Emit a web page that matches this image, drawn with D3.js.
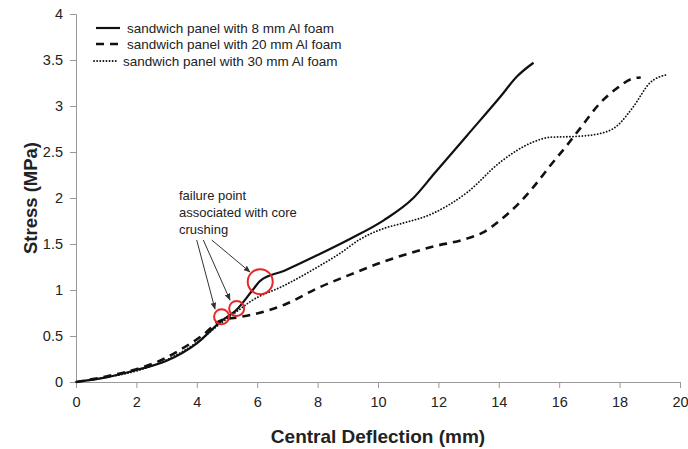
<!DOCTYPE html>
<html><head><meta charset="utf-8">
<script src="https://cdn.jsdelivr.net/npm/d3@7"></script>
<style>body{margin:0;background:#fff}svg{display:block}text{font-family:"Liberation Sans",Arial,sans-serif}</style>
</head><body><svg id="c" width="688" height="449"></svg>
<script>
const xTicks = [0,2,4,6,8,10,12,14,16,18,20];
const yTicks = [0,0.5,1,1.5,2,2.5,3,3.5,4];
const yTickLabels = ["0","0.5","1","1.5","2","2.5","3","3.5","4"];

const seriesNames = ["sandwich panel with 8 mm Al foam","sandwich panel with 20 mm Al foam","sandwich panel with 30 mm Al foam"];

const defl8 = [0,1,2,3,4,4.8,5.3,5.85,6.1,6.9,8.0,9.1,10.2,11.17,11.85,12.95,14.05,14.6,15.15];
const stress8 = [0,0.05,0.13,0.23,0.42,0.66,0.78,1.0,1.1,1.21,1.38,1.56,1.76,2.0,2.26,2.68,3.1,3.32,3.47];

const defl20 = [0,1,2,2.9,3.45,4.2,4.8,5.3,5.8,6.9,8.0,9.1,10.2,10.75,11.8,12.95,13.5,14.05,14.6,15.15,15.7,16.25,16.7,17.35,17.9,18.45,18.7];
const stress20 = [0,0.06,0.14,0.25,0.35,0.51,0.67,0.70,0.73,0.84,1.02,1.17,1.31,1.37,1.47,1.56,1.63,1.76,1.92,2.12,2.35,2.57,2.76,3.03,3.19,3.30,3.31];

const defl30 = [0,1,2,3,4,4.8,5.3,5.8,6.9,8.0,8.75,9.4,10.2,10.75,11.8,12.95,14.05,15.15,15.7,16.6,17.35,17.9,18.45,19.0,19.56];
const stress30 = [0,0.05,0.12,0.24,0.43,0.64,0.76,0.88,1.05,1.25,1.40,1.55,1.67,1.72,1.83,2.06,2.39,2.61,2.66,2.67,2.70,2.78,2.99,3.25,3.34];

const failX = [4.82,5.32,6.1];
const failY = [0.71,0.80,1.09];
const failR = [7.5,7.5,12.5];

const annotationLines = ["failure point","associated with core","crushing"];

const svg = d3.select("#c");
const x = d3.scaleLinear().domain([0,20]).range([76,680]);
const y = d3.scaleLinear().domain([0,4]).range([382,14]);

const axisColor = "#999";
const xa = svg.append("g").attr("transform","translate(0,382)")
  .call(d3.axisBottom(x).tickValues(xTicks).tickSize(6).tickPadding(9).tickFormat(d3.format("d")));
const ya = svg.append("g").attr("transform","translate(76,0)")
  .call(d3.axisLeft(y).tickValues(yTicks).tickSize(6).tickPadding(7).tickFormat((d,i)=>yTickLabels[i]));
[xa,ya].forEach(g=>{
  g.selectAll("path,line").attr("stroke",axisColor);
  g.selectAll("text").attr("font-size",14.5).attr("fill","#222");
});

svg.append("text").attr("x",378).attr("y",443).attr("text-anchor","middle")
  .attr("font-size",19).attr("font-weight","bold").attr("fill","#222").text("Central Deflection (mm)");
svg.append("text").attr("transform","translate(37,198) rotate(-90)").attr("text-anchor","middle")
  .attr("font-size",18.5).attr("font-weight","bold").attr("fill","#222").text("Stress (MPa)");

const line = d3.line().curve(d3.curveMonotoneX);
const styles = [
  {w:2.2, dash:null, cap:"butt"},
  {w:2.6, dash:"8,6", cap:"butt"},
  {w:1.8, dash:"0.1,3", cap:"round"}
];
const data = [[defl8,stress8],[defl20,stress20],[defl30,stress30]];
data.forEach(([xs,ys],i)=>{
  svg.append("path")
    .attr("d", line(xs.map((v,j)=>[x(v),y(ys[j])])))
    .attr("fill","none").attr("stroke","#111")
    .attr("stroke-width",styles[i].w)
    .attr("stroke-dasharray",styles[i].dash)
    .attr("stroke-linecap",styles[i].cap);
});

// legend
const legY = [28,44,61];
const legX1 = [96,96,94], legX2 = [120,120,118], legTX = [127,127,123];
seriesNames.forEach((n,i)=>{
  svg.append("line").attr("x1",legX1[i]).attr("x2",legX2[i]).attr("y1",legY[i]).attr("y2",legY[i])
    .attr("stroke","#111").attr("stroke-width",styles[i].w)
    .attr("stroke-dasharray", styles[i].dash)
    .attr("stroke-linecap",styles[i].cap);
  svg.append("text").attr("x",legTX[i]).attr("y",legY[i]+5).attr("font-size",13.5).attr("fill","#222").text(n);
});

// annotation
annotationLines.forEach((t,i)=>{
  svg.append("text").attr("x",179).attr("y",200+i*17).attr("font-size",13).attr("fill","#222").text(t);
});
svg.append("defs").append("marker").attr("id","ar").attr("viewBox","0 0 10 10")
  .attr("refX",9).attr("refY",5).attr("markerWidth",7).attr("markerHeight",7).attr("orient","auto")
  .append("path").attr("d","M0,1 L10,5 L0,9 z").attr("fill","#333");
const arrowStart = [[196.7,240],[203.3,240],[211.7,240]];
const arrowEnd = [[215,309],[230,300],[250,272]];
arrowStart.forEach((s,i)=>{
  svg.append("line").attr("x1",s[0]).attr("y1",s[1]).attr("x2",arrowEnd[i][0]).attr("y2",arrowEnd[i][1])
    .attr("stroke","#333").attr("stroke-width",1).attr("marker-end","url(#ar)");
});
failX.forEach((v,i)=>{
  svg.append("circle").attr("cx",x(v)).attr("cy",y(failY[i])).attr("r",failR[i])
    .attr("fill","none").attr("stroke","#e8262a").attr("stroke-width",2);
});
</script></body></html>
